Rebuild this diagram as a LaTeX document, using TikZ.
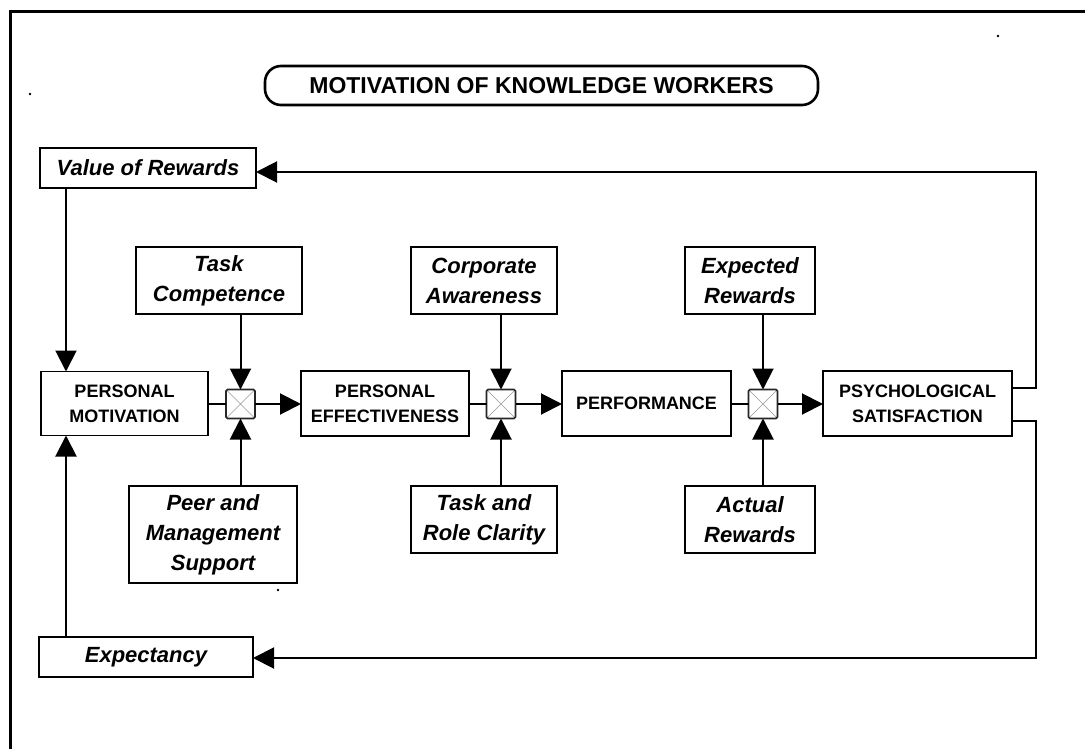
\documentclass[tikz,border=0pt]{standalone}
\usepackage{fontspec}
\setmainfont{Liberation Sans}
\usetikzlibrary{arrows.meta}

\tikzset{
  box/.style={draw, line width=1.8pt, fill=white, inner sep=0pt, outer sep=0pt, align=center},
  stagebox/.style={box, font=\bfseries\fontsize{18}{25}\selectfont},
  factorbox/.style={box, font=\bfseries\itshape\fontsize{22}{30}\selectfont},
  titlebox/.style={draw, line width=2.6pt, rounded corners=16pt, inner sep=0pt, outer sep=0pt,
    font=\bfseries\fontsize{23}{26}\selectfont},
  xbox/.style={draw=black!85, line width=1.6pt, fill=white, rounded corners=1.5pt,
    minimum width=29pt, minimum height=29pt, inner sep=0pt, outer sep=0pt,
    path picture={\draw[black!40, line width=0.6pt]
      (path picture bounding box.north west) -- (path picture bounding box.south east)
      (path picture bounding box.north east) -- (path picture bounding box.south west);}},
  conn/.style={line width=2pt},
  arr/.style={conn, -{Triangle[length=21pt, width=21pt]}},
  frameline/.style={line width=3pt},
}

\begin{document}
\begin{tikzpicture}[x=1pt, y=-1pt]
\useasboundingbox (0,0) rectangle (1085,749);

% open frame (top and left edges)
\draw[frameline] (10,749) -- (10,12) -- (1085,12);

% stray specks
\fill (30,94) circle (1.3);
\fill (998,36) circle (1.3);
\fill (278,590) circle (1.3);

% title
\node[titlebox, minimum width=553pt, minimum height=39pt] (title) at (541.5,85.5)
  {MOTIVATION OF KNOWLEDGE WORKERS};

% feedback boxes
\node[factorbox, minimum width=216pt, minimum height=40pt] (vor) at (148,168) {Value of Rewards};
\node[factorbox, minimum width=214pt, minimum height=40pt] (exp) at (146,657) {Expectancy};

% main chain
\node[stagebox, minimum width=167pt, minimum height=64pt] (pm)   at (124.5,403.5) {PERSONAL\\MOTIVATION};
\node[stagebox, minimum width=168pt, minimum height=65pt] (pe)   at (385,403.5)   {PERSONAL\\EFFECTIVENESS};
\node[stagebox, minimum width=169pt, minimum height=65pt] (perf) at (646.5,403.5) {PERFORMANCE};
\node[stagebox, minimum width=189pt, minimum height=65pt] (psy)  at (917.5,403.5) {PSYCHOLOGICAL\\SATISFACTION};

% junctions
\node[xbox] (x1) at (240.5,404) {};
\node[xbox] (x2) at (501,404) {};
\node[xbox] (x3) at (763,404) {};

% upper factors
\node[factorbox, minimum width=166pt, minimum height=67pt] (tc) at (219,280.5) {Task\\Competence};
\node[factorbox, minimum width=146pt, minimum height=67pt] (ca) at (484,280.5) {Corporate\\Awareness};
\node[factorbox, minimum width=130pt, minimum height=67pt] (er) at (750,280.5) {Expected\\Rewards};

% lower factors
\node[factorbox, minimum width=168pt, minimum height=97pt] (pms) at (213,534.5) {Peer and\\Management\\Support};
\node[factorbox, minimum width=146pt, minimum height=67pt] (trc) at (484,519.5) {Task and\\Role Clarity};
\node[factorbox, minimum width=130pt, minimum height=67pt] (ar)  at (750,519.5) {Actual\\Rewards};

% routing points
\coordinate (lx) at (66,0);
\coordinate (rtop) at (1036,172);
\coordinate (rbot) at (1036,658);

% chain connectors
\draw[conn] (pm.east |- x1) -- (x1.west);
\draw[arr]  (x1.east) -- (pe.west |- x1);
\draw[conn] (pe.east |- x2) -- (x2.west);
\draw[arr]  (x2.east) -- (perf.west |- x2);
\draw[conn] (perf.east |- x3) -- (x3.west);
\draw[arr]  (x3.east) -- (psy.west |- x3);

% factor inputs
\draw[arr] (tc.south -| x1) -- (x1.north);
\draw[arr] (ca.south -| x2) -- (x2.north);
\draw[arr] (er.south -| x3) -- (x3.north);
\draw[arr] (pms.north -| x1) -- (x1.south);
\draw[arr] (trc.north -| x2) -- (x2.south);
\draw[arr] (ar.north -| x3) -- (x3.south);

% feedback loops
\draw[arr] (vor.south -| lx) -- (pm.north -| lx);
\draw[arr] (exp.north -| lx) -- (pm.south -| lx);
\draw[arr] ([yshift=15.5pt]psy.east) -| (rtop) -- (vor.east |- rtop);
\draw[arr] ([yshift=-17.5pt]psy.east) -| (rbot) -- (exp.east |- rbot);

\end{tikzpicture}
\end{document}
